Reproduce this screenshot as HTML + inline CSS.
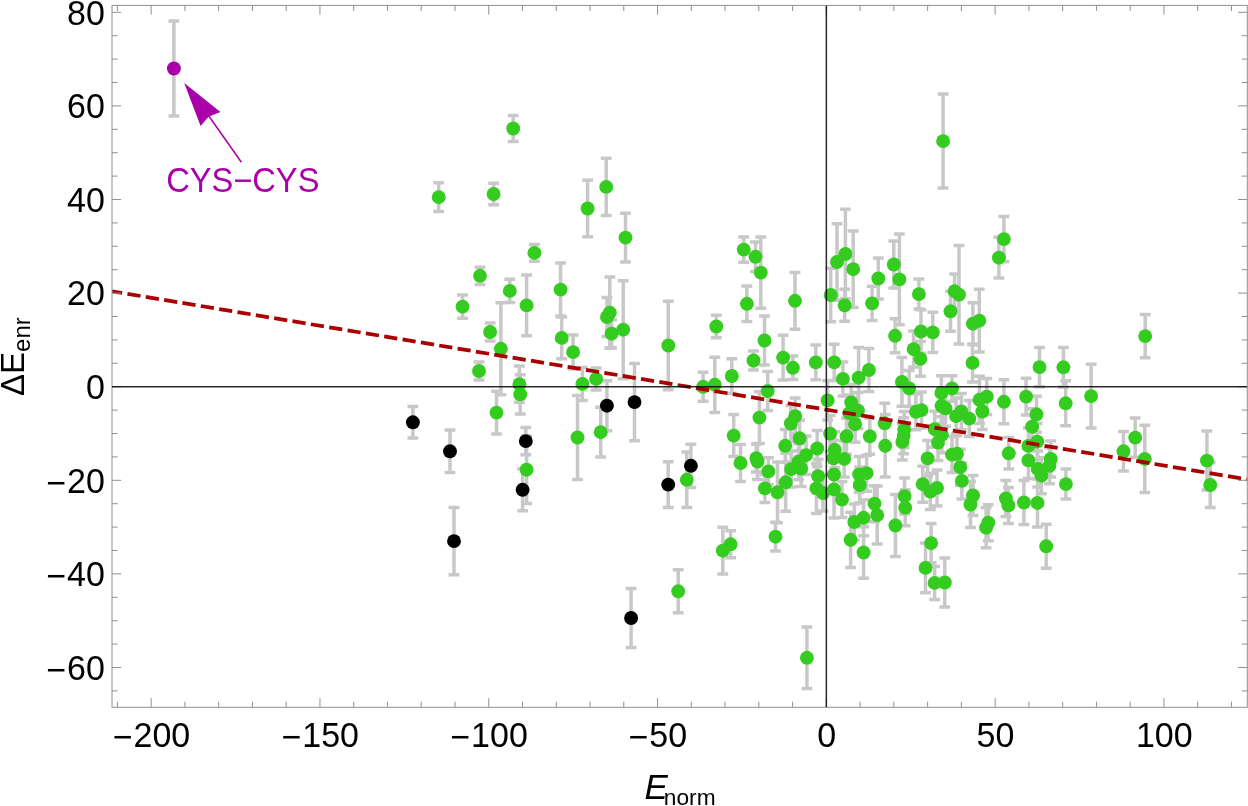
<!DOCTYPE html>
<html><head><meta charset="utf-8"><style>html,body{margin:0;padding:0;background:#fff;width:1248px;height:806px;overflow:hidden}svg{display:block;will-change:transform}</style></head>
<body>
<svg width="1248" height="806" viewBox="0 0 1248 806">
<rect width="1248" height="806" fill="#fff"/>
<defs><clipPath id="c"><rect x="112.0" y="5.4" width="1135.3" height="701.9"/></clipPath></defs>
<path d="M173.9 21.1V115.9M168.5 21.1H179.3M168.5 115.9H179.3M513.2 115.5V141.5M507.8 115.5H518.6M507.8 141.5H518.6M438.7 182.8V211.6M433.3 182.8H444.1M433.3 211.6H444.1M493.6 183.2V204.8M488.2 183.2H499.0M488.2 204.8H499.0M587.6 180.3V236.7M582.2 180.3H593.0M582.2 236.7H593.0M606.2 158.2V215.6M600.8 158.2H611.6M600.8 215.6H611.6M534.4 244.5V261.3M529.0 244.5H539.8M529.0 261.3H539.8M480.0 267.2V284.4M474.6 267.2H485.4M474.6 284.4H485.4M509.8 279.3V302.5M504.4 279.3H515.2M504.4 302.5H515.2M526.6 275.1V335.7M521.2 275.1H532.0M521.2 335.7H532.0M560.6 263.1V316.1M555.2 263.1H566.0M555.2 316.1H566.0M462.5 295.1V318.3M457.1 295.1H467.9M457.1 318.3H467.9M490.1 323.1V340.9M484.7 323.1H495.5M484.7 340.9H495.5M500.9 302.8V394.8M495.5 302.8H506.3M495.5 394.8H506.3M561.7 317.1V358.7M556.3 317.1H567.1M556.3 358.7H567.1M573.1 335.1V369.1M567.7 335.1H578.5M567.7 369.1H578.5M609.8 277.1V348.3M604.4 277.1H615.2M604.4 348.3H615.2M607.0 297.5V336.5M601.6 297.5H612.4M601.6 336.5H612.4M611.6 319.7V347.7M606.2 319.7H617.0M606.2 347.7H617.0M623.2 280.7V378.7M617.8 280.7H628.6M617.8 378.7H628.6M668.3 301.2V389.8M662.9 301.2H673.7M662.9 389.8H673.7M625.5 213.3V261.9M620.1 213.3H630.9M620.1 261.9H630.9M479.0 362.1V379.9M473.6 362.1H484.4M473.6 379.9H484.4M496.5 391.2V434.0M491.1 391.2H501.9M491.1 434.0H501.9M519.4 366.1V402.3M514.0 366.1H524.8M514.0 402.3H524.8M520.2 374.8V414.0M514.8 374.8H525.6M514.8 414.0H525.6M412.9 406.6V438.0M407.5 406.6H418.3M407.5 438.0H418.3M450.0 430.1V472.5M444.6 430.1H455.4M444.6 472.5H455.4M525.8 427.4V454.8M520.4 427.4H531.2M520.4 454.8H531.2M526.6 435.9V503.5M521.2 435.9H532.0M521.2 503.5H532.0M522.6 468.8V510.8M517.2 468.8H528.0M517.2 510.8H528.0M454.0 507.5V574.7M448.6 507.5H459.4M448.6 574.7H459.4M631.1 588.4V647.6M625.7 588.4H636.5M625.7 647.6H636.5M678.2 569.8V612.8M672.8 569.8H683.6M672.8 612.8H683.6M634.5 363.4V440.8M629.1 363.4H639.9M629.1 440.8H639.9M716.3 315.3V337.7M710.9 315.3H721.7M710.9 337.7H721.7M746.9 286.1V321.5M741.5 286.1H752.3M741.5 321.5H752.3M764.5 315.9V365.1M759.1 315.9H769.9M759.1 365.1H769.9M753.5 350.9V370.1M748.1 350.9H758.9M748.1 370.1H758.9M703.1 372.3V401.3M697.7 372.3H708.5M697.7 401.3H708.5M714.8 357.2V412.4M709.4 357.2H720.2M709.4 412.4H720.2M731.8 358.7V393.3M726.4 358.7H737.2M726.4 393.3H737.2M767.7 371.6V410.4M762.3 371.6H773.1M762.3 410.4H773.1M759.4 391.8V443.4M754.0 391.8H764.8M754.0 443.4H764.8M943.1 94.1V188.1M937.7 94.1H948.5M937.7 188.1H948.5M743.7 236.9V262.3M738.3 236.9H749.1M738.3 262.3H749.1M755.5 242.1V271.5M750.1 242.1H760.9M750.1 271.5H760.9M760.8 237.0V308.2M755.4 237.0H766.2M755.4 308.2H766.2M795.0 272.4V329.2M789.6 272.4H800.4M789.6 329.2H800.4M830.7 268.3V321.7M825.3 268.3H836.1M825.3 321.7H836.1M845.4 209.3V298.7M840.0 209.3H850.8M840.0 298.7H850.8M837.0 223.8V300.2M831.6 223.8H842.4M831.6 300.2H842.4M853.2 231.0V307.4M847.8 231.0H858.6M847.8 307.4H858.6M878.3 258.1V298.9M872.9 258.1H883.7M872.9 298.9H883.7M893.8 240.9V288.1M888.4 240.9H899.2M888.4 288.1H899.2M899.4 234.1V324.7M894.0 234.1H904.8M894.0 324.7H904.8M918.9 279.1V309.1M913.5 279.1H924.3M913.5 309.1H924.3M844.7 289.3V321.3M839.3 289.3H850.1M839.3 321.3H850.1M872.1 286.3V320.5M866.7 286.3H877.5M866.7 320.5H877.5M1003.9 216.5V261.7M998.5 216.5H1009.3M998.5 261.7H1009.3M998.9 237.3V278.1M993.5 237.3H1004.3M993.5 278.1H1004.3M954.6 274.1V308.3M949.2 274.1H960.0M949.2 308.3H960.0M959.0 245.5V343.9M953.6 245.5H964.4M953.6 343.9H964.4M1145.2 314.5V357.7M1139.8 314.5H1150.6M1139.8 357.7H1150.6M950.5 291.3V331.3M945.1 291.3H955.9M945.1 331.3H955.9M979.3 289.3V352.1M973.9 289.3H984.7M973.9 352.1H984.7M972.9 302.7V344.7M967.5 302.7H978.3M967.5 344.7H978.3M895.1 318.8V352.8M889.7 318.8H900.5M889.7 352.8H900.5M921.0 309.8V353.2M915.6 309.8H926.4M915.6 353.2H926.4M932.8 312.2V352.6M927.4 312.2H938.2M927.4 352.6H938.2M913.6 331.1V367.1M908.2 331.1H919.0M908.2 367.1H919.0M920.4 341.4V376.2M915.0 341.4H925.8M915.0 376.2H925.8M972.5 343.9V381.9M967.1 343.9H977.9M967.1 381.9H977.9M783.1 335.2V380.0M777.7 335.2H788.5M777.7 380.0H788.5M792.9 356.0V379.6M787.5 356.0H798.3M787.5 379.6H798.3M815.8 345.0V379.8M810.4 345.0H821.2M810.4 379.8H821.2M834.2 344.2V380.6M828.8 344.2H839.6M828.8 380.6H839.6M842.9 361.9V395.9M837.5 361.9H848.3M837.5 395.9H848.3M858.6 347.5V407.9M853.2 347.5H864.0M853.2 407.9H864.0M868.9 348.5V391.5M863.5 348.5H874.3M863.5 391.5H874.3M827.6 380.8V420.0M822.2 380.8H833.0M822.2 420.0H833.0M851.2 384.5V420.5M845.8 384.5H856.6M845.8 420.5H856.6M858.0 392.6V428.6M852.6 392.6H863.4M852.6 428.6H863.4M849.3 395.1V431.1M843.9 395.1H854.7M843.9 431.1H854.7M795.2 398.1V434.1M789.8 398.1H800.6M789.8 434.1H800.6M790.9 405.5V441.5M785.5 405.5H796.3M785.5 441.5H796.3M799.6 420.3V456.3M794.2 420.3H805.0M794.2 456.3H805.0M785.2 429.4V462.2M779.8 429.4H790.6M779.8 462.2H790.6M756.3 444.2V472.0M750.9 444.2H761.7M750.9 472.0H761.7M740.5 444.4V481.6M735.1 444.4H745.9M735.1 481.6H745.9M768.4 457.7V485.1M763.0 457.7H773.8M763.0 485.1H773.8M817.2 430.5V466.5M811.8 430.5H822.6M811.8 466.5H822.6M806.1 435.9V474.5M800.7 435.9H811.5M800.7 474.5H811.5M798.6 443.7V479.7M793.2 443.7H804.0M793.2 479.7H804.0M791.2 451.1V487.1M785.8 451.1H796.6M785.8 487.1H796.6M801.1 450.6V486.6M795.7 450.6H806.5M795.7 486.6H806.5M785.7 453.3V511.3M780.3 453.3H791.1M780.3 511.3H791.1M764.9 474.4V502.4M759.5 474.4H770.3M759.5 502.4H770.3M777.5 461.9V522.7M772.1 461.9H782.9M772.1 522.7H782.9M818.1 459.2V493.2M812.7 459.2H823.5M812.7 493.2H823.5M816.4 463.3V513.5M811.0 463.3H821.8M811.0 513.5H821.8M823.0 475.0V511.0M817.6 475.0H828.4M817.6 511.0H828.4M830.1 415.6V451.6M824.7 415.6H835.5M824.7 451.6H835.5M834.8 431.8V467.8M829.4 431.8H840.2M829.4 467.8H840.2M833.3 440.3V476.3M827.9 440.3H838.7M827.9 476.3H838.7M844.2 440.9V476.9M838.8 440.9H849.6M838.8 476.9H849.6M834.0 456.5V492.5M828.6 456.5H839.4M828.6 492.5H839.4M834.0 460.8V518.0M828.6 460.8H839.4M828.6 518.0H839.4M846.5 418.3V454.3M841.1 418.3H851.9M841.1 454.3H851.9M855.1 406.2V442.2M849.7 406.2H860.5M849.7 442.2H860.5M869.8 418.3V454.3M864.4 418.3H875.2M864.4 454.3H875.2M859.1 456.4V492.4M853.7 456.4H864.5M853.7 492.4H864.5M866.6 455.2V491.2M861.2 455.2H872.0M861.2 491.2H872.0M859.7 467.0V503.0M854.3 467.0H865.1M854.3 503.0H865.1M884.7 403.3V443.3M879.3 403.3H890.1M879.3 443.3H890.1M885.2 414.6V477.0M879.8 414.6H890.6M879.8 477.0H890.6M904.2 411.6V447.6M898.8 411.6H909.6M898.8 447.6H909.6M903.7 417.8V453.8M898.3 417.8H909.1M898.3 453.8H909.1M902.3 423.9V459.9M896.9 423.9H907.7M896.9 459.9H907.7M915.9 393.8V429.8M910.5 393.8H921.3M910.5 429.8H921.3M921.5 392.1V428.1M916.1 392.1H926.9M916.1 428.1H926.9M927.6 440.4V476.4M922.2 440.4H933.0M922.2 476.4H933.0M901.9 357.5V406.3M896.5 357.5H907.3M896.5 406.3H907.3M909.2 370.4V406.4M903.8 370.4H914.6M903.8 406.4H914.6M941.4 375.8V410.0M936.0 375.8H946.8M936.0 410.0H946.8M952.0 375.8V401.2M946.6 375.8H957.4M946.6 401.2H957.4M941.5 387.8V423.8M936.1 387.8H946.9M936.1 423.8H946.9M945.5 390.3V426.3M940.1 390.3H950.9M940.1 426.3H950.9M956.1 398.1V434.1M950.7 398.1H961.5M950.7 434.1H961.5M961.4 393.5V429.5M956.0 393.5H966.8M956.0 429.5H966.8M969.3 400.6V436.6M963.9 400.6H974.7M963.9 436.6H974.7M934.7 411.2V447.2M929.3 411.2H940.1M929.3 447.2H940.1M941.9 416.8V452.8M936.5 416.8H947.3M936.5 452.8H947.3M938.0 424.6V460.6M932.6 424.6H943.4M932.6 460.6H943.4M1039.5 347.5V386.7M1034.1 347.5H1044.9M1034.1 386.7H1044.9M986.8 378.6V414.6M981.4 378.6H992.2M981.4 414.6H992.2M979.5 376.2V423.4M974.1 376.2H984.9M974.1 423.4H984.9M982.3 393.5V429.5M976.9 393.5H987.7M976.9 429.5H987.7M1003.9 379.8V423.8M998.5 379.8H1009.3M998.5 423.8H1009.3M1026.1 378.2V415.0M1020.7 378.2H1031.5M1020.7 415.0H1031.5M1036.5 396.3V432.3M1031.1 396.3H1041.9M1031.1 432.3H1041.9M1063.4 347.6V387.0M1058.0 347.6H1068.8M1058.0 387.0H1068.8M1065.7 380.8V425.8M1060.3 380.8H1071.1M1060.3 425.8H1071.1M1091.1 364.2V428.0M1085.7 364.2H1096.5M1085.7 428.0H1096.5M1123.5 431.6V471.1M1118.1 431.6H1128.9M1118.1 471.1H1128.9M1135.2 418.0V457.2M1129.8 418.0H1140.6M1129.8 457.2H1140.6M1144.8 425.2V492.6M1139.4 425.2H1150.2M1139.4 492.6H1150.2M1206.9 431.1V490.1M1201.5 431.1H1212.3M1201.5 490.1H1212.3M1210.2 462.4V507.6M1204.8 462.4H1215.6M1204.8 507.6H1215.6M1032.1 408.7V444.7M1026.7 408.7H1037.5M1026.7 444.7H1037.5M1037.3 423.6V459.6M1031.9 423.6H1042.7M1031.9 459.6H1042.7M1028.4 427.9V463.9M1023.0 427.9H1033.8M1023.0 463.9H1033.8M1008.8 437.6V469.0M1003.4 437.6H1014.2M1003.4 469.0H1014.2M1028.4 442.4V478.4M1023.0 442.4H1033.8M1023.0 478.4H1033.8M1050.7 440.9V476.9M1045.3 440.9H1056.1M1045.3 476.9H1056.1M1049.5 447.8V483.8M1044.1 447.8H1054.9M1044.1 483.8H1054.9M1037.7 450.9V486.9M1032.3 450.9H1043.1M1032.3 486.9H1043.1M1041.4 457.7V493.7M1036.0 457.7H1046.8M1036.0 493.7H1046.8M1065.9 469.1V499.1M1060.5 469.1H1071.3M1060.5 499.1H1071.3M961.9 462.9V498.9M956.5 462.9H967.3M956.5 498.9H967.3M973.0 475.4V515.4M967.6 475.4H978.4M967.6 515.4H978.4M970.5 481.6V527.4M965.1 481.6H975.9M965.1 527.4H975.9M988.3 504.7V540.7M982.9 504.7H993.7M982.9 540.7H993.7M986.1 507.7V547.7M980.7 507.7H991.5M980.7 547.7H991.5M1005.9 480.5V516.5M1000.5 480.5H1011.3M1000.5 516.5H1011.3M1008.4 487.4V523.4M1003.0 487.4H1013.8M1003.0 523.4H1013.8M1023.9 480.5V524.5M1018.5 480.5H1029.3M1018.5 524.5H1029.3M1037.5 478.9V526.9M1032.1 478.9H1042.9M1032.1 526.9H1042.9M1046.2 524.3V568.3M1040.8 524.3H1051.6M1040.8 568.3H1051.6M952.0 436.6V472.6M946.6 436.6H957.4M946.6 472.6H957.4M957.0 435.8V471.8M951.6 435.8H962.4M951.6 471.8H962.4M960.3 449.2V485.2M954.9 449.2H965.7M954.9 485.2H965.7M922.7 466.2V502.2M917.3 466.2H928.1M917.3 502.2H928.1M937.0 469.9V505.9M931.6 469.9H942.4M931.6 505.9H942.4M930.3 473.5V509.5M924.9 473.5H935.7M924.9 509.5H935.7M904.6 478.1V514.1M899.2 478.1H910.0M899.2 514.1H910.0M905.2 489.7V525.7M899.8 489.7H910.6M899.8 525.7H910.6M874.5 485.7V521.7M869.1 485.7H879.9M869.1 521.7H879.9M877.2 486.1V544.1M871.8 486.1H882.6M871.8 544.1H882.6M842.0 481.6V517.6M836.6 481.6H847.4M836.6 517.6H847.4M863.6 499.8V535.8M858.2 499.8H869.0M858.2 535.8H869.0M854.3 504.0V540.0M848.9 504.0H859.7M848.9 540.0H859.7M850.6 512.2V567.4M845.2 512.2H856.0M845.2 567.4H856.0M863.6 526.7V578.3M858.2 526.7H869.0M858.2 578.3H869.0M690.9 444.2V487.4M685.5 444.2H696.3M685.5 487.4H696.3M686.8 452.1V507.5M681.4 452.1H692.2M681.4 507.5H692.2M733.7 414.6V456.6M728.3 414.6H739.1M728.3 456.6H739.1M757.5 443.5V479.5M752.1 443.5H762.9M752.1 479.5H762.9M775.5 522.3V551.1M770.1 522.3H780.9M770.1 551.1H780.9M730.6 530.8V557.8M725.2 530.8H736.0M725.2 557.8H736.0M722.8 527.3V574.1M717.4 527.3H728.2M717.4 574.1H728.2M895.4 494.5V556.5M890.0 494.5H900.8M890.0 556.5H900.8M931.1 523.6V562.8M925.7 523.6H936.5M925.7 562.8H936.5M925.5 543.1V592.7M920.1 543.1H930.9M920.1 592.7H930.9M934.6 566.4V599.4M929.2 566.4H940.0M929.2 599.4H940.0M944.8 557.9V607.1M939.4 557.9H950.2M939.4 607.1H950.2M806.9 626.9V688.6M801.5 626.9H812.3M801.5 688.6H812.3M582.4 367.4V400.4M577.0 367.4H587.8M577.0 400.4H587.8M596.1 367.9V389.9M590.7 367.9H601.5M590.7 389.9H601.5M606.9 380.7V430.7M601.5 380.7H612.3M601.5 430.7H612.3M577.5 395.5V479.5M572.1 395.5H582.9M572.1 479.5H582.9M600.7 407.3V457.1M595.3 407.3H606.1M595.3 457.1H606.1M668.2 461.7V507.5M662.8 461.7H673.6M662.8 507.5H673.6" stroke="#c8c8c8" stroke-width="3.5" fill="none" clip-path="url(#c)"/>
<circle cx="173.9" cy="68.5" r="6.95" fill="#aa00aa"/>
<circle cx="513.2" cy="128.5" r="6.95" fill="#33cc1f"/>
<circle cx="438.7" cy="197.2" r="6.95" fill="#33cc1f"/>
<circle cx="493.6" cy="194.0" r="6.95" fill="#33cc1f"/>
<circle cx="587.6" cy="208.5" r="6.95" fill="#33cc1f"/>
<circle cx="606.2" cy="186.9" r="6.95" fill="#33cc1f"/>
<circle cx="534.4" cy="252.9" r="6.95" fill="#33cc1f"/>
<circle cx="480.0" cy="275.8" r="6.95" fill="#33cc1f"/>
<circle cx="509.8" cy="290.9" r="6.95" fill="#33cc1f"/>
<circle cx="526.6" cy="305.4" r="6.95" fill="#33cc1f"/>
<circle cx="560.6" cy="289.6" r="6.95" fill="#33cc1f"/>
<circle cx="462.5" cy="306.7" r="6.95" fill="#33cc1f"/>
<circle cx="490.1" cy="332.0" r="6.95" fill="#33cc1f"/>
<circle cx="500.9" cy="348.8" r="6.95" fill="#33cc1f"/>
<circle cx="561.7" cy="337.9" r="6.95" fill="#33cc1f"/>
<circle cx="573.1" cy="352.1" r="6.95" fill="#33cc1f"/>
<circle cx="609.8" cy="312.7" r="6.95" fill="#33cc1f"/>
<circle cx="607.0" cy="317.0" r="6.95" fill="#33cc1f"/>
<circle cx="611.6" cy="333.7" r="6.95" fill="#33cc1f"/>
<circle cx="623.2" cy="329.7" r="6.95" fill="#33cc1f"/>
<circle cx="668.3" cy="345.5" r="6.95" fill="#33cc1f"/>
<circle cx="625.5" cy="237.6" r="6.95" fill="#33cc1f"/>
<circle cx="479.0" cy="371.0" r="6.95" fill="#33cc1f"/>
<circle cx="496.5" cy="412.6" r="6.95" fill="#33cc1f"/>
<circle cx="519.4" cy="384.2" r="6.95" fill="#33cc1f"/>
<circle cx="520.2" cy="394.4" r="6.95" fill="#33cc1f"/>
<circle cx="412.9" cy="422.3" r="6.95" fill="#000"/>
<circle cx="450.0" cy="451.3" r="6.95" fill="#000"/>
<circle cx="525.8" cy="441.1" r="6.95" fill="#000"/>
<circle cx="526.6" cy="469.7" r="6.95" fill="#33cc1f"/>
<circle cx="522.6" cy="489.8" r="6.95" fill="#000"/>
<circle cx="454.0" cy="541.1" r="6.95" fill="#000"/>
<circle cx="631.1" cy="618.0" r="6.95" fill="#000"/>
<circle cx="678.2" cy="591.3" r="6.95" fill="#33cc1f"/>
<circle cx="634.5" cy="402.1" r="6.95" fill="#000"/>
<circle cx="716.3" cy="326.5" r="6.95" fill="#33cc1f"/>
<circle cx="746.9" cy="303.8" r="6.95" fill="#33cc1f"/>
<circle cx="764.5" cy="340.5" r="6.95" fill="#33cc1f"/>
<circle cx="753.5" cy="360.5" r="6.95" fill="#33cc1f"/>
<circle cx="703.1" cy="386.8" r="6.95" fill="#33cc1f"/>
<circle cx="714.8" cy="384.8" r="6.95" fill="#33cc1f"/>
<circle cx="731.8" cy="376.0" r="6.95" fill="#33cc1f"/>
<circle cx="767.7" cy="391.0" r="6.95" fill="#33cc1f"/>
<circle cx="759.4" cy="417.6" r="6.95" fill="#33cc1f"/>
<circle cx="943.1" cy="141.1" r="6.95" fill="#33cc1f"/>
<circle cx="743.7" cy="249.6" r="6.95" fill="#33cc1f"/>
<circle cx="755.5" cy="256.8" r="6.95" fill="#33cc1f"/>
<circle cx="760.8" cy="272.6" r="6.95" fill="#33cc1f"/>
<circle cx="795.0" cy="300.8" r="6.95" fill="#33cc1f"/>
<circle cx="830.7" cy="295.0" r="6.95" fill="#33cc1f"/>
<circle cx="845.4" cy="254.0" r="6.95" fill="#33cc1f"/>
<circle cx="837.0" cy="262.0" r="6.95" fill="#33cc1f"/>
<circle cx="853.2" cy="269.2" r="6.95" fill="#33cc1f"/>
<circle cx="878.3" cy="278.5" r="6.95" fill="#33cc1f"/>
<circle cx="893.8" cy="264.5" r="6.95" fill="#33cc1f"/>
<circle cx="899.4" cy="279.4" r="6.95" fill="#33cc1f"/>
<circle cx="918.9" cy="294.1" r="6.95" fill="#33cc1f"/>
<circle cx="844.7" cy="305.3" r="6.95" fill="#33cc1f"/>
<circle cx="872.1" cy="303.4" r="6.95" fill="#33cc1f"/>
<circle cx="1003.9" cy="239.1" r="6.95" fill="#33cc1f"/>
<circle cx="998.9" cy="257.7" r="6.95" fill="#33cc1f"/>
<circle cx="954.6" cy="291.2" r="6.95" fill="#33cc1f"/>
<circle cx="959.0" cy="294.7" r="6.95" fill="#33cc1f"/>
<circle cx="1145.2" cy="336.1" r="6.95" fill="#33cc1f"/>
<circle cx="950.5" cy="311.3" r="6.95" fill="#33cc1f"/>
<circle cx="979.3" cy="320.7" r="6.95" fill="#33cc1f"/>
<circle cx="972.9" cy="323.7" r="6.95" fill="#33cc1f"/>
<circle cx="895.1" cy="335.8" r="6.95" fill="#33cc1f"/>
<circle cx="921.0" cy="331.5" r="6.95" fill="#33cc1f"/>
<circle cx="932.8" cy="332.4" r="6.95" fill="#33cc1f"/>
<circle cx="913.6" cy="349.1" r="6.95" fill="#33cc1f"/>
<circle cx="920.4" cy="358.8" r="6.95" fill="#33cc1f"/>
<circle cx="972.5" cy="362.9" r="6.95" fill="#33cc1f"/>
<circle cx="783.1" cy="357.6" r="6.95" fill="#33cc1f"/>
<circle cx="792.9" cy="367.8" r="6.95" fill="#33cc1f"/>
<circle cx="815.8" cy="362.4" r="6.95" fill="#33cc1f"/>
<circle cx="834.2" cy="362.4" r="6.95" fill="#33cc1f"/>
<circle cx="842.9" cy="378.9" r="6.95" fill="#33cc1f"/>
<circle cx="858.6" cy="377.7" r="6.95" fill="#33cc1f"/>
<circle cx="868.9" cy="370.0" r="6.95" fill="#33cc1f"/>
<circle cx="827.6" cy="400.4" r="6.95" fill="#33cc1f"/>
<circle cx="851.2" cy="402.5" r="6.95" fill="#33cc1f"/>
<circle cx="858.0" cy="410.6" r="6.95" fill="#33cc1f"/>
<circle cx="849.3" cy="413.1" r="6.95" fill="#33cc1f"/>
<circle cx="795.2" cy="416.1" r="6.95" fill="#33cc1f"/>
<circle cx="790.9" cy="423.5" r="6.95" fill="#33cc1f"/>
<circle cx="799.6" cy="438.3" r="6.95" fill="#33cc1f"/>
<circle cx="785.2" cy="445.8" r="6.95" fill="#33cc1f"/>
<circle cx="756.3" cy="458.1" r="6.95" fill="#33cc1f"/>
<circle cx="740.5" cy="463.0" r="6.95" fill="#33cc1f"/>
<circle cx="768.4" cy="471.4" r="6.95" fill="#33cc1f"/>
<circle cx="817.2" cy="448.5" r="6.95" fill="#33cc1f"/>
<circle cx="806.1" cy="455.2" r="6.95" fill="#33cc1f"/>
<circle cx="798.6" cy="461.7" r="6.95" fill="#33cc1f"/>
<circle cx="791.2" cy="469.1" r="6.95" fill="#33cc1f"/>
<circle cx="801.1" cy="468.6" r="6.95" fill="#33cc1f"/>
<circle cx="785.7" cy="482.3" r="6.95" fill="#33cc1f"/>
<circle cx="764.9" cy="488.4" r="6.95" fill="#33cc1f"/>
<circle cx="777.5" cy="492.3" r="6.95" fill="#33cc1f"/>
<circle cx="818.1" cy="476.2" r="6.95" fill="#33cc1f"/>
<circle cx="816.4" cy="488.4" r="6.95" fill="#33cc1f"/>
<circle cx="823.0" cy="493.0" r="6.95" fill="#33cc1f"/>
<circle cx="830.1" cy="433.6" r="6.95" fill="#33cc1f"/>
<circle cx="834.8" cy="449.8" r="6.95" fill="#33cc1f"/>
<circle cx="833.3" cy="458.3" r="6.95" fill="#33cc1f"/>
<circle cx="844.2" cy="458.9" r="6.95" fill="#33cc1f"/>
<circle cx="834.0" cy="474.5" r="6.95" fill="#33cc1f"/>
<circle cx="834.0" cy="489.4" r="6.95" fill="#33cc1f"/>
<circle cx="846.5" cy="436.3" r="6.95" fill="#33cc1f"/>
<circle cx="855.1" cy="424.2" r="6.95" fill="#33cc1f"/>
<circle cx="869.8" cy="436.3" r="6.95" fill="#33cc1f"/>
<circle cx="859.1" cy="474.4" r="6.95" fill="#33cc1f"/>
<circle cx="866.6" cy="473.2" r="6.95" fill="#33cc1f"/>
<circle cx="859.7" cy="485.0" r="6.95" fill="#33cc1f"/>
<circle cx="884.7" cy="423.3" r="6.95" fill="#33cc1f"/>
<circle cx="885.2" cy="445.8" r="6.95" fill="#33cc1f"/>
<circle cx="904.2" cy="429.6" r="6.95" fill="#33cc1f"/>
<circle cx="903.7" cy="435.8" r="6.95" fill="#33cc1f"/>
<circle cx="902.3" cy="441.9" r="6.95" fill="#33cc1f"/>
<circle cx="915.9" cy="411.8" r="6.95" fill="#33cc1f"/>
<circle cx="921.5" cy="410.1" r="6.95" fill="#33cc1f"/>
<circle cx="927.6" cy="458.4" r="6.95" fill="#33cc1f"/>
<circle cx="901.9" cy="381.9" r="6.95" fill="#33cc1f"/>
<circle cx="909.2" cy="388.4" r="6.95" fill="#33cc1f"/>
<circle cx="941.4" cy="392.9" r="6.95" fill="#33cc1f"/>
<circle cx="952.0" cy="388.5" r="6.95" fill="#33cc1f"/>
<circle cx="941.5" cy="405.8" r="6.95" fill="#33cc1f"/>
<circle cx="945.5" cy="408.3" r="6.95" fill="#33cc1f"/>
<circle cx="956.1" cy="416.1" r="6.95" fill="#33cc1f"/>
<circle cx="961.4" cy="411.5" r="6.95" fill="#33cc1f"/>
<circle cx="969.3" cy="418.6" r="6.95" fill="#33cc1f"/>
<circle cx="934.7" cy="429.2" r="6.95" fill="#33cc1f"/>
<circle cx="941.9" cy="434.8" r="6.95" fill="#33cc1f"/>
<circle cx="938.0" cy="442.6" r="6.95" fill="#33cc1f"/>
<circle cx="1039.5" cy="367.1" r="6.95" fill="#33cc1f"/>
<circle cx="986.8" cy="396.6" r="6.95" fill="#33cc1f"/>
<circle cx="979.5" cy="399.8" r="6.95" fill="#33cc1f"/>
<circle cx="982.3" cy="411.5" r="6.95" fill="#33cc1f"/>
<circle cx="1003.9" cy="401.8" r="6.95" fill="#33cc1f"/>
<circle cx="1026.1" cy="396.6" r="6.95" fill="#33cc1f"/>
<circle cx="1036.5" cy="414.3" r="6.95" fill="#33cc1f"/>
<circle cx="1063.4" cy="367.3" r="6.95" fill="#33cc1f"/>
<circle cx="1065.7" cy="403.3" r="6.95" fill="#33cc1f"/>
<circle cx="1091.1" cy="396.1" r="6.95" fill="#33cc1f"/>
<circle cx="1123.5" cy="451.3" r="6.95" fill="#33cc1f"/>
<circle cx="1135.2" cy="437.6" r="6.95" fill="#33cc1f"/>
<circle cx="1144.8" cy="458.9" r="6.95" fill="#33cc1f"/>
<circle cx="1206.9" cy="460.6" r="6.95" fill="#33cc1f"/>
<circle cx="1210.2" cy="485.0" r="6.95" fill="#33cc1f"/>
<circle cx="1032.1" cy="426.7" r="6.95" fill="#33cc1f"/>
<circle cx="1037.3" cy="441.6" r="6.95" fill="#33cc1f"/>
<circle cx="1028.4" cy="445.9" r="6.95" fill="#33cc1f"/>
<circle cx="1008.8" cy="453.3" r="6.95" fill="#33cc1f"/>
<circle cx="1028.4" cy="460.4" r="6.95" fill="#33cc1f"/>
<circle cx="1050.7" cy="458.9" r="6.95" fill="#33cc1f"/>
<circle cx="1049.5" cy="465.8" r="6.95" fill="#33cc1f"/>
<circle cx="1037.7" cy="468.9" r="6.95" fill="#33cc1f"/>
<circle cx="1041.4" cy="475.7" r="6.95" fill="#33cc1f"/>
<circle cx="1065.9" cy="484.1" r="6.95" fill="#33cc1f"/>
<circle cx="961.9" cy="480.9" r="6.95" fill="#33cc1f"/>
<circle cx="973.0" cy="495.4" r="6.95" fill="#33cc1f"/>
<circle cx="970.5" cy="504.5" r="6.95" fill="#33cc1f"/>
<circle cx="988.3" cy="522.7" r="6.95" fill="#33cc1f"/>
<circle cx="986.1" cy="527.7" r="6.95" fill="#33cc1f"/>
<circle cx="1005.9" cy="498.5" r="6.95" fill="#33cc1f"/>
<circle cx="1008.4" cy="505.4" r="6.95" fill="#33cc1f"/>
<circle cx="1023.9" cy="502.5" r="6.95" fill="#33cc1f"/>
<circle cx="1037.5" cy="502.9" r="6.95" fill="#33cc1f"/>
<circle cx="1046.2" cy="546.3" r="6.95" fill="#33cc1f"/>
<circle cx="952.0" cy="454.6" r="6.95" fill="#33cc1f"/>
<circle cx="957.0" cy="453.8" r="6.95" fill="#33cc1f"/>
<circle cx="960.3" cy="467.2" r="6.95" fill="#33cc1f"/>
<circle cx="922.7" cy="484.2" r="6.95" fill="#33cc1f"/>
<circle cx="937.0" cy="487.9" r="6.95" fill="#33cc1f"/>
<circle cx="930.3" cy="491.5" r="6.95" fill="#33cc1f"/>
<circle cx="904.6" cy="496.1" r="6.95" fill="#33cc1f"/>
<circle cx="905.2" cy="507.7" r="6.95" fill="#33cc1f"/>
<circle cx="874.5" cy="503.7" r="6.95" fill="#33cc1f"/>
<circle cx="877.2" cy="515.1" r="6.95" fill="#33cc1f"/>
<circle cx="842.0" cy="499.6" r="6.95" fill="#33cc1f"/>
<circle cx="863.6" cy="517.8" r="6.95" fill="#33cc1f"/>
<circle cx="854.3" cy="522.0" r="6.95" fill="#33cc1f"/>
<circle cx="850.6" cy="539.8" r="6.95" fill="#33cc1f"/>
<circle cx="863.6" cy="552.5" r="6.95" fill="#33cc1f"/>
<circle cx="690.9" cy="465.8" r="6.95" fill="#000"/>
<circle cx="686.8" cy="479.8" r="6.95" fill="#33cc1f"/>
<circle cx="733.7" cy="435.6" r="6.95" fill="#33cc1f"/>
<circle cx="757.5" cy="461.5" r="6.95" fill="#33cc1f"/>
<circle cx="775.5" cy="536.7" r="6.95" fill="#33cc1f"/>
<circle cx="730.6" cy="544.3" r="6.95" fill="#33cc1f"/>
<circle cx="722.8" cy="550.7" r="6.95" fill="#33cc1f"/>
<circle cx="895.4" cy="525.5" r="6.95" fill="#33cc1f"/>
<circle cx="931.1" cy="543.2" r="6.95" fill="#33cc1f"/>
<circle cx="925.5" cy="567.9" r="6.95" fill="#33cc1f"/>
<circle cx="934.6" cy="582.9" r="6.95" fill="#33cc1f"/>
<circle cx="944.8" cy="582.5" r="6.95" fill="#33cc1f"/>
<circle cx="806.9" cy="657.8" r="6.95" fill="#33cc1f"/>
<circle cx="582.4" cy="383.9" r="6.95" fill="#33cc1f"/>
<circle cx="596.1" cy="378.9" r="6.95" fill="#33cc1f"/>
<circle cx="606.9" cy="405.7" r="6.95" fill="#000"/>
<circle cx="577.5" cy="437.5" r="6.95" fill="#33cc1f"/>
<circle cx="600.7" cy="432.2" r="6.95" fill="#33cc1f"/>
<circle cx="668.2" cy="484.6" r="6.95" fill="#000"/>
<line x1="112.0" y1="291.30" x2="1247.3" y2="479.37" stroke="#aa0000" stroke-width="3.75" stroke-dasharray="13.25 5.342" stroke-dashoffset="2.95" clip-path="url(#c)"/>
<rect x="112.0" y="5.4" width="1135.3" height="701.9" fill="none" stroke="#909090" stroke-width="1"/>
<path d="M117.39 707.3v-5.6M117.39 5.4v5.6M151.15 707.3v-9.2M151.15 5.4v9.2M184.91 707.3v-5.6M184.91 5.4v5.6M218.67 707.3v-5.6M218.67 5.4v5.6M252.43 707.3v-5.6M252.43 5.4v5.6M286.19 707.3v-5.6M286.19 5.4v5.6M319.95 707.3v-9.2M319.95 5.4v9.2M353.71 707.3v-5.6M353.71 5.4v5.6M387.47 707.3v-5.6M387.47 5.4v5.6M421.23 707.3v-5.6M421.23 5.4v5.6M454.99 707.3v-5.6M454.99 5.4v5.6M488.75 707.3v-9.2M488.75 5.4v9.2M522.51 707.3v-5.6M522.51 5.4v5.6M556.27 707.3v-5.6M556.27 5.4v5.6M590.03 707.3v-5.6M590.03 5.4v5.6M623.79 707.3v-5.6M623.79 5.4v5.6M657.55 707.3v-9.2M657.55 5.4v9.2M691.31 707.3v-5.6M691.31 5.4v5.6M725.07 707.3v-5.6M725.07 5.4v5.6M758.83 707.3v-5.6M758.83 5.4v5.6M792.59 707.3v-5.6M792.59 5.4v5.6M826.35 707.3v-9.2M826.35 5.4v9.2M860.11 707.3v-5.6M860.11 5.4v5.6M893.87 707.3v-5.6M893.87 5.4v5.6M927.63 707.3v-5.6M927.63 5.4v5.6M961.39 707.3v-5.6M961.39 5.4v5.6M995.15 707.3v-9.2M995.15 5.4v9.2M1028.91 707.3v-5.6M1028.91 5.4v5.6M1062.67 707.3v-5.6M1062.67 5.4v5.6M1096.43 707.3v-5.6M1096.43 5.4v5.6M1130.19 707.3v-5.6M1130.19 5.4v5.6M1163.95 707.3v-9.2M1163.95 5.4v9.2M1197.71 707.3v-5.6M1197.71 5.4v5.6M1231.47 707.3v-5.6M1231.47 5.4v5.6M112.0 690.90h5.6M1247.3 690.90h-5.6M112.0 667.50h9.2M1247.3 667.50h-9.2M112.0 644.10h5.6M1247.3 644.10h-5.6M112.0 620.70h5.6M1247.3 620.70h-5.6M112.0 597.30h5.6M1247.3 597.30h-5.6M112.0 573.90h9.2M1247.3 573.90h-9.2M112.0 550.50h5.6M1247.3 550.50h-5.6M112.0 527.10h5.6M1247.3 527.10h-5.6M112.0 503.70h5.6M1247.3 503.70h-5.6M112.0 480.30h9.2M1247.3 480.30h-9.2M112.0 456.90h5.6M1247.3 456.90h-5.6M112.0 433.50h5.6M1247.3 433.50h-5.6M112.0 410.10h5.6M1247.3 410.10h-5.6M112.0 386.70h9.2M1247.3 386.70h-9.2M112.0 363.30h5.6M1247.3 363.30h-5.6M112.0 339.90h5.6M1247.3 339.90h-5.6M112.0 316.50h5.6M1247.3 316.50h-5.6M112.0 293.10h9.2M1247.3 293.10h-9.2M112.0 269.70h5.6M1247.3 269.70h-5.6M112.0 246.30h5.6M1247.3 246.30h-5.6M112.0 222.90h5.6M1247.3 222.90h-5.6M112.0 199.50h9.2M1247.3 199.50h-9.2M112.0 176.10h5.6M1247.3 176.10h-5.6M112.0 152.70h5.6M1247.3 152.70h-5.6M112.0 129.30h5.6M1247.3 129.30h-5.6M112.0 105.90h9.2M1247.3 105.90h-9.2M112.0 82.50h5.6M1247.3 82.50h-5.6M112.0 59.10h5.6M1247.3 59.10h-5.6M112.0 35.70h5.6M1247.3 35.70h-5.6M112.0 12.30h9.2M1247.3 12.30h-9.2" stroke="#909090" stroke-width="1" fill="none"/>
<g clip-path="url(#c)" stroke="#000" stroke-opacity="0.83" stroke-width="1.5">
<line x1="112.0" y1="386.8" x2="1247.3" y2="386.8"/>
<line x1="826.35" y1="5.4" x2="826.35" y2="707.3"/>
</g>
<text transform="translate(104.8,679.80) scale(0.95,1)" font-family="Liberation Sans, sans-serif" font-size="35.8" text-anchor="end"><tspan dy="2.0">−</tspan><tspan dy="-2.0" dx="1.0">60</tspan></text>
<text transform="translate(104.8,586.20) scale(0.95,1)" font-family="Liberation Sans, sans-serif" font-size="35.8" text-anchor="end"><tspan dy="2.0">−</tspan><tspan dy="-2.0" dx="1.0">40</tspan></text>
<text transform="translate(104.8,492.60) scale(0.95,1)" font-family="Liberation Sans, sans-serif" font-size="35.8" text-anchor="end"><tspan dy="2.0">−</tspan><tspan dy="-2.0" dx="1.0">20</tspan></text>
<text transform="translate(104.8,399.00) scale(0.95,1)" font-family="Liberation Sans, sans-serif" font-size="35.8" text-anchor="end">0</text>
<text transform="translate(104.8,305.40) scale(0.95,1)" font-family="Liberation Sans, sans-serif" font-size="35.8" text-anchor="end">20</text>
<text transform="translate(104.8,211.80) scale(0.95,1)" font-family="Liberation Sans, sans-serif" font-size="35.8" text-anchor="end">40</text>
<text transform="translate(104.8,118.20) scale(0.95,1)" font-family="Liberation Sans, sans-serif" font-size="35.8" text-anchor="end">60</text>
<text transform="translate(104.8,24.60) scale(0.95,1)" font-family="Liberation Sans, sans-serif" font-size="35.8" text-anchor="end">80</text>
<text transform="translate(151.45,747.0) scale(0.95,1)" font-family="Liberation Sans, sans-serif" font-size="35.8" text-anchor="middle"><tspan dy="2.0">−</tspan><tspan dy="-2.0" dx="1.0">200</tspan></text>
<text transform="translate(320.25,747.0) scale(0.95,1)" font-family="Liberation Sans, sans-serif" font-size="35.8" text-anchor="middle"><tspan dy="2.0">−</tspan><tspan dy="-2.0" dx="1.0">150</tspan></text>
<text transform="translate(489.05,747.0) scale(0.95,1)" font-family="Liberation Sans, sans-serif" font-size="35.8" text-anchor="middle"><tspan dy="2.0">−</tspan><tspan dy="-2.0" dx="1.0">100</tspan></text>
<text transform="translate(657.85,747.0) scale(0.95,1)" font-family="Liberation Sans, sans-serif" font-size="35.8" text-anchor="middle"><tspan dy="2.0">−</tspan><tspan dy="-2.0" dx="1.0">50</tspan></text>
<text transform="translate(826.65,747.0) scale(0.95,1)" font-family="Liberation Sans, sans-serif" font-size="35.8" text-anchor="middle">0</text>
<text transform="translate(995.45,747.0) scale(0.95,1)" font-family="Liberation Sans, sans-serif" font-size="35.8" text-anchor="middle">50</text>
<text transform="translate(1164.25,747.0) scale(0.95,1)" font-family="Liberation Sans, sans-serif" font-size="35.8" text-anchor="middle">100</text>
<text x="644.5" y="799.0" font-family="Liberation Sans, sans-serif" font-size="35"><tspan font-style="italic">E</tspan><tspan font-size="22.7" dy="5.9" dx="-4.0">norm</tspan></text>
<text transform="translate(24.3,396) rotate(-90)" font-family="Liberation Sans, sans-serif" font-size="33">ΔE<tspan font-size="24" dy="6">enr</tspan></text>
<text x="166.2" y="191.8" font-family="Liberation Sans, sans-serif" font-size="34.6" fill="#aa00aa" textLength="153.2" lengthAdjust="spacingAndGlyphs">CYS−CYS</text>
<line x1="241.4" y1="162.3" x2="206" y2="112" stroke="#aa00aa" stroke-width="1.5"/>
<path d="M184.2 83.1L200.6 126L208.8 116.5L220.5 112Z" fill="#aa00aa"/>
</svg>
</body></html>
